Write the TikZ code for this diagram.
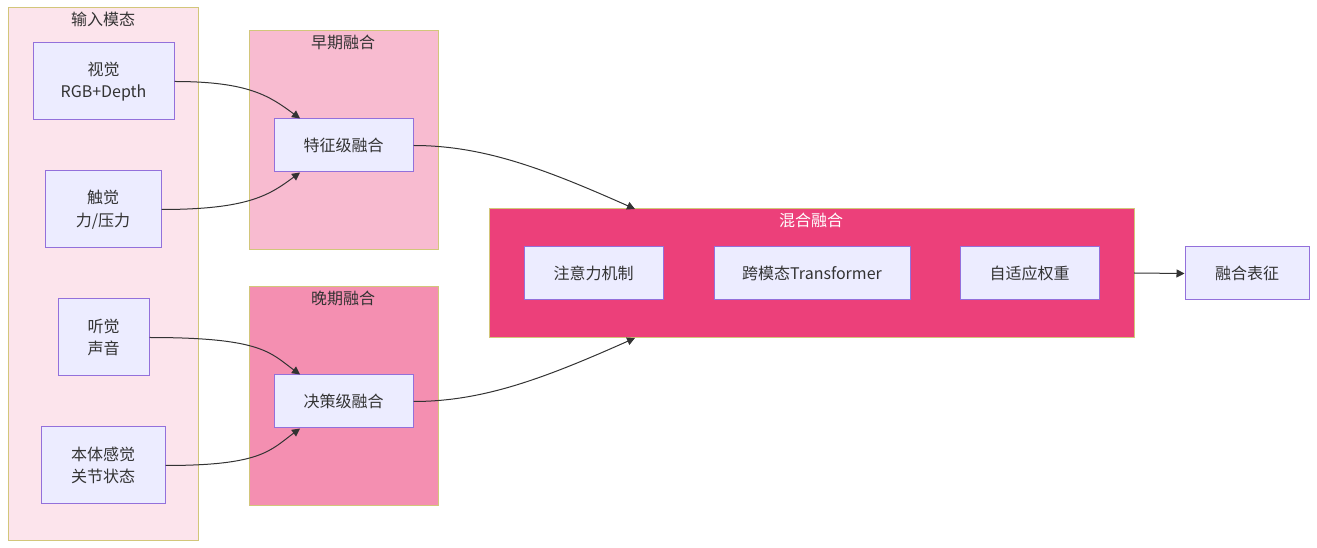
\documentclass[tikz,border=0pt]{standalone}
\usepackage{fontspec}
\setmainfont{Noto Sans CJK SC}
\usetikzlibrary{arrows.meta}

\definecolor{boxfill}{HTML}{ECECFF}
\definecolor{boxline}{HTML}{9370DB}
\definecolor{grpline}{HTML}{D2C67A}
\definecolor{inputfill}{HTML}{FCE4EC}
\definecolor{earlyfill}{HTML}{F8BBD0}
\definecolor{latefill}{HTML}{F48FB1}
\definecolor{hybridfill}{HTML}{EC407A}
\definecolor{edge}{HTML}{333333}

\tikzset{
  box/.style={draw=boxline, fill=boxfill, line width=0.75pt, inner sep=0pt,
    align=center, font=\fontsize{12pt}{17pt}\selectfont, text=edge},
  group/.style={draw=grpline, line width=0.75pt},
  grouptitle/.style={font=\fontsize{12pt}{14pt}\selectfont, text=edge},
  arr/.style={draw=edge, line width=0.75pt, -{Triangle[length=6pt,width=6pt]}}
}

\begin{document}
\begin{tikzpicture}[x=0.75pt, y=-0.75pt]
  \useasboundingbox (0,0) rectangle (1317,548);

  % groups
  \draw[group, fill=inputfill] (8,8) rectangle (198,540);
  \node[grouptitle] (tin) at (103,19) {输入模态};
  \draw[group, fill=earlyfill] (249,31) rectangle (438,250);
  \node[grouptitle] (tearly) at (343,42) {早期融合};
  \draw[group, fill=latefill] (249,287) rectangle (438,506);
  \node[grouptitle] (tlate) at (343,298) {晚期融合};
  \draw[group, fill=hybridfill] (489,209) rectangle (1134,338);
  \node[grouptitle, text=white] (thybrid) at (811,220) {混合融合};
  \coordinate (hybtop) at (635,209);
  \coordinate (hybbot) at (635,338);
  \coordinate (hybright) at (1134,273);

  % inputs
  \node[box, minimum width=105.75pt, minimum height=57.75pt] (vision) at (103.5,81.5) {视觉\\RGB+Depth};
  \node[box, minimum width=87pt, minimum height=57.75pt] (touch) at (103,209.5) {触觉\\力/压力};
  \node[box, minimum width=68.25pt, minimum height=57.75pt] (audio) at (103.5,337.5) {听觉\\声音};
  \node[box, minimum width=93pt, minimum height=57.75pt] (proprio) at (103,465.5) {本体感觉\\关节状态};

  % fusion nodes
  \node[box, minimum width=104.25pt, minimum height=39.75pt] (feat) at (343.5,145.5) {特征级融合};
  \node[box, minimum width=104.25pt, minimum height=39.75pt] (decis) at (343.5,401.5) {决策级融合};
  \node[box, minimum width=104.25pt, minimum height=39.75pt] (attn) at (593.5,273.5) {注意力机制};
  \node[box, minimum width=147pt, minimum height=39.75pt] (xformer) at (812,273.5) {跨模态Transformer};
  \node[box, minimum width=104.25pt, minimum height=39.75pt] (adapt) at (1029.5,273.5) {自适应权重};
  \node[box, minimum width=93pt, minimum height=39.75pt] (repr) at (1247,273.5) {融合表征};

  % edges
  \draw[arr] (vision.east) .. controls ++(75,0) and ++(-30,-22) .. ([xshift=-32.6pt]feat.north);
  \draw[arr] (touch.east) .. controls ++(88,0) and ++(-30,22) .. ([xshift=-32.6pt]feat.south);
  \draw[arr] (audio.east) .. controls ++(112,0) and ++(-30,-22) .. ([xshift=-32.6pt]decis.north);
  \draw[arr] (proprio.east) .. controls ++(96,0) and ++(-30,22) .. ([xshift=-32.6pt]decis.south);
  \draw[arr] (feat.east) .. controls ++(70,0) and ++(-90,-40) .. (hybtop);
  \draw[arr] (decis.east) .. controls ++(70,0) and ++(-90,40) .. (hybbot);
  \draw[arr] (hybright) -- (repr.west);
\end{tikzpicture}
\end{document}
